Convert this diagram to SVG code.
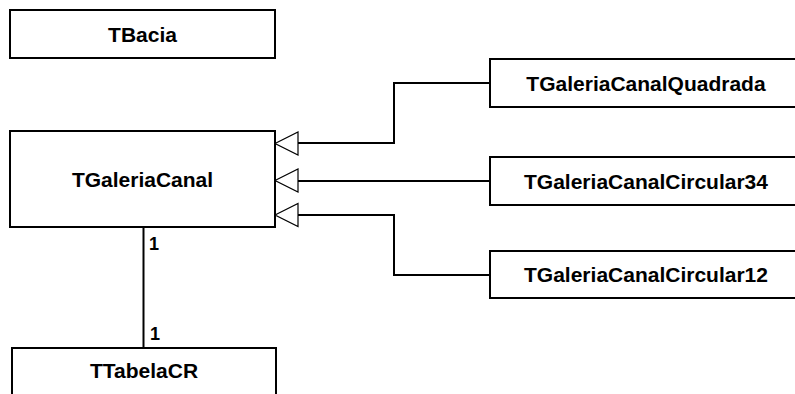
<svg xmlns="http://www.w3.org/2000/svg" width="795" height="394" viewBox="0 0 795 394">
<style>
.box{fill:#fff;stroke:#000;stroke-width:2}
.lbl{font-family:"Liberation Sans",Arial,sans-serif;font-weight:bold;font-size:21px;text-anchor:middle;fill:#000}
.mult{font-family:"Liberation Sans",Arial,sans-serif;font-weight:bold;font-size:18px;fill:#000}
.conn{fill:none;stroke:#000;stroke-width:2}
.tri{fill:#fff;stroke:#000;stroke-width:1.2}
</style>
<rect width="795" height="394" fill="#fff"/>
<g id="connectors">
<polyline class="conn" points="298,143 394,143 394,83 490,83"/>
<polyline class="conn" points="298,181 490,181"/>
<polyline class="conn" points="298,215 394,215 394,275 490,275"/>
<line class="conn" x1="143.5" y1="227" x2="143.5" y2="348"/>
<polygon class="tri" points="275,143.5 298,132 298,155"/>
<polygon class="tri" points="275,180.5 298,169 298,192"/>
<polygon class="tri" points="275,215 298,203.5 298,226.5"/>
<text class="mult" x="149" y="250">1</text>
<text class="mult" x="150" y="340">1</text>
</g>
<g id="TBacia">
<rect class="box" x="10" y="10" width="265" height="48"/>
<text class="lbl" x="142.5" y="41.5">TBacia</text>
</g>
<g id="TGaleriaCanal">
<rect class="box" x="10" y="131" width="265" height="96"/>
<text class="lbl" x="142.5" y="186.5">TGaleriaCanal</text>
</g>
<g id="TGaleriaCanalQuadrada">
<rect class="box" x="490" y="59" width="312" height="48"/>
<text class="lbl" x="646" y="90.5">TGaleriaCanalQuadrada</text>
</g>
<g id="TGaleriaCanalCircular34">
<rect class="box" x="490" y="157" width="312" height="48"/>
<text class="lbl" x="646" y="188.5">TGaleriaCanalCircular34</text>
</g>
<g id="TGaleriaCanalCircular12">
<rect class="box" x="490" y="251" width="312" height="47"/>
<text class="lbl" x="646" y="282">TGaleriaCanalCircular12</text>
</g>
<g id="TTabelaCR">
<rect class="box" x="12" y="348" width="264" height="60"/>
<text class="lbl" x="144" y="378">TTabelaCR</text>
</g>
</svg>
